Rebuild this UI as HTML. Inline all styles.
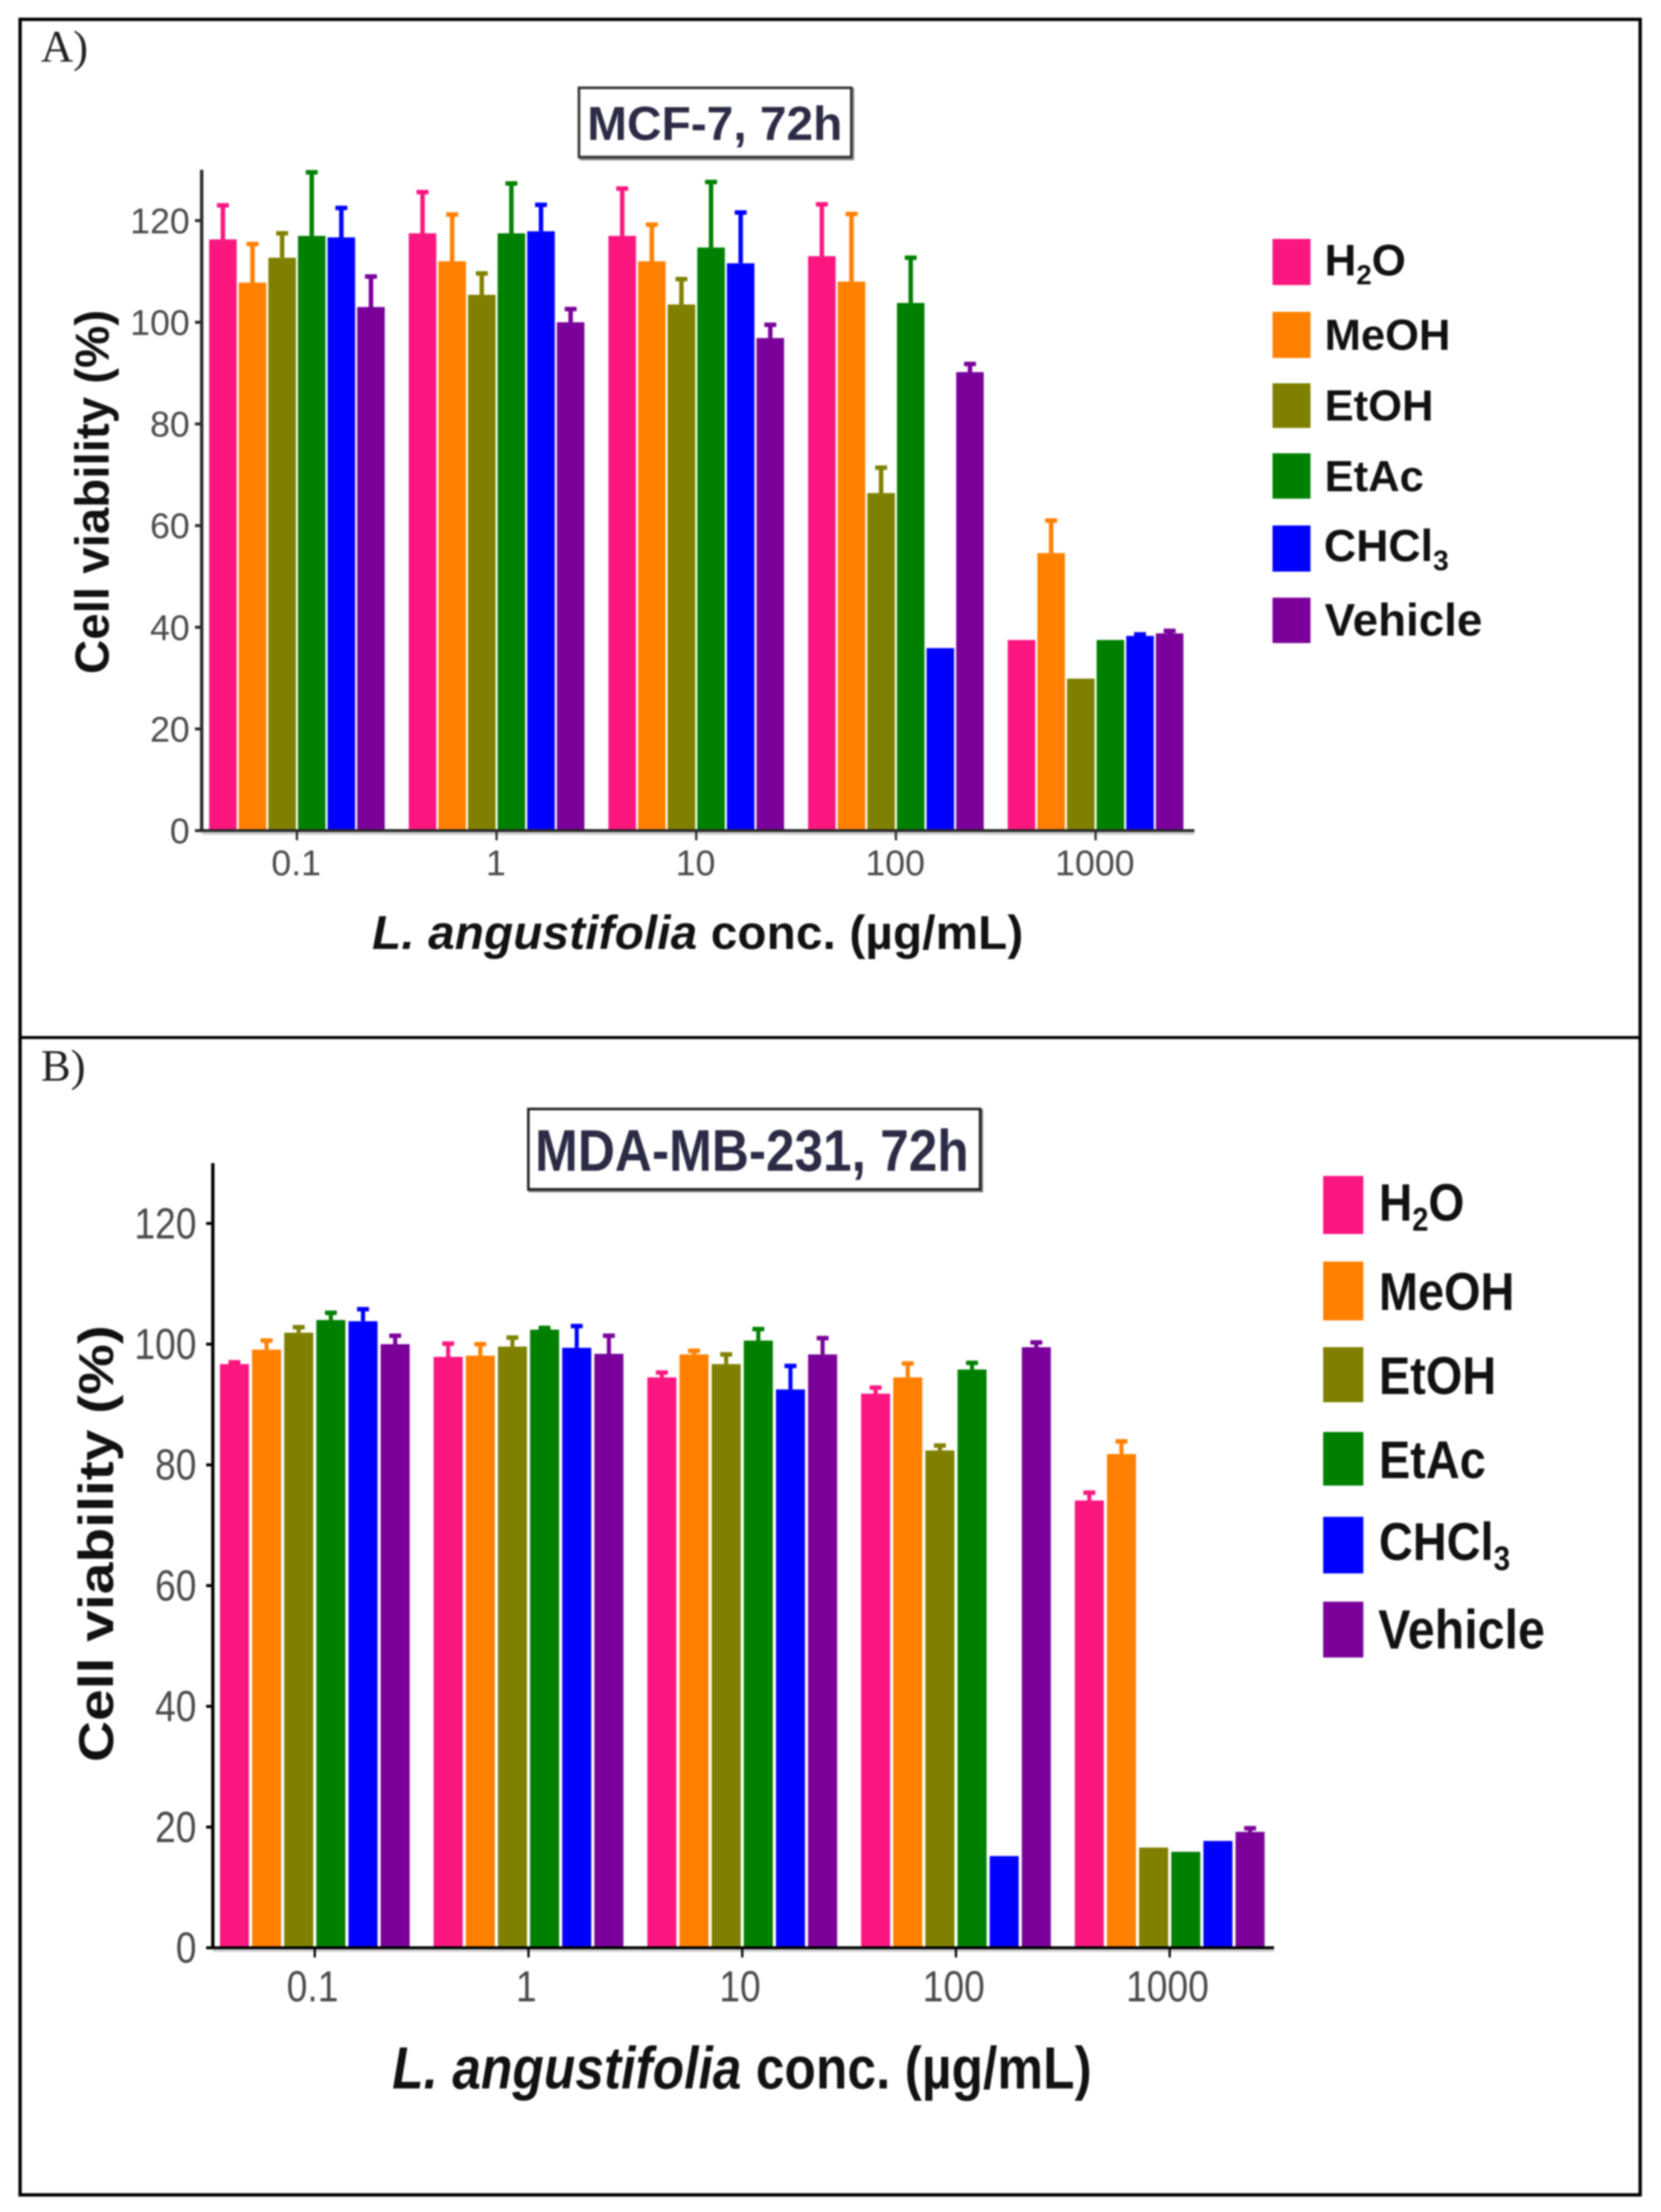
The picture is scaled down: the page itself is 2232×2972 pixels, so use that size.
<!DOCTYPE html>
<html lang="en">
<head>
<meta charset="utf-8">
<title>Cell viability of L. angustifolia extracts</title>
<style>
html,body{margin:0;padding:0;background:#fff;width:2232px;height:2972px;overflow:hidden}
svg{display:block;filter:blur(1.1px)}
text{font-family:"Liberation Sans",sans-serif}
.serif{font-family:"Liberation Serif",serif;fill:#222}
.bold{font-weight:bold;fill:#111}
.title{font-weight:bold;fill:#2b2b45}
.tick{fill:#4a4a4a}
</style>
</head>
<body>
<svg id="figure" xmlns="http://www.w3.org/2000/svg" width="2232" height="2972" viewBox="0 0 2232 2972">
  <rect x="27" y="26" width="2177" height="2923" fill="#fff" stroke="#000" stroke-width="4.5"/>
  <line x1="27" y1="1394" x2="2204" y2="1394" stroke="#000" stroke-width="4"/>

  <text class="serif" x="55" y="83" font-size="60">A)</text>
  <text class="serif" x="55" y="1452" font-size="60">B)</text>

  <g>
    <line x1="779" y1="213" x2="1146" y2="213" stroke="#888" stroke-width="5"/>
    <line x1="1146" y1="118" x2="1146" y2="215" stroke="#999" stroke-width="4"/>
    <rect x="778" y="118" width="366" height="93" fill="#fff" stroke="#333" stroke-width="3.5"/>
    <text class="title" x="789" y="188" font-size="64.3">MCF-7, 72h</text>
  </g>
  <g>
    <line x1="710" y1="1600" x2="1319" y2="1600" stroke="#888" stroke-width="4"/>
    <line x1="1319" y1="1490" x2="1319" y2="1602" stroke="#777" stroke-width="4"/>
    <rect x="710" y="1490" width="607" height="108" fill="#fff" stroke="#222" stroke-width="3.5"/>
    <text class="title" transform="translate(719,1573) scale(1,1.14)" font-size="69">MDA-MB-231, 72h</text>
  </g>

  <text class="bold" transform="translate(146,661) rotate(-90)" text-anchor="middle" font-size="63.8">Cell viability (%)</text>
  <text class="bold" transform="translate(152,2074) scale(1,1.16) rotate(-90)" text-anchor="middle" font-size="66">Cell viability (%)</text>

  <text class="bold" x="500" y="1275" font-size="64" textLength="875"><tspan font-style="italic">L. angustifolia</tspan> conc. (µg/mL)</text>
  <text class="bold" transform="translate(527,2806) scale(1,1.15)" font-size="69" textLength="940"><tspan font-style="italic">L. angustifolia</tspan> conc. (µg/mL)</text>

  <g id="panel-a-plot"></g>
  <g id="panel-b-plot"></g>

  <g>
    <g>
      <rect x="1710" y="321" width="51" height="62" fill="#fb1680"/>
      <text class="bold" x="1780" y="370" font-size="59">H<tspan font-size="37" dy="12">2</tspan><tspan dy="-12">O</tspan></text>
    </g>
    <g>
      <rect x="1710" y="419" width="51" height="62" fill="#ff8000"/>
      <text class="bold" x="1780" y="470" font-size="58.5">MeOH</text>
    </g>
    <g>
      <rect x="1710" y="515" width="51" height="60" fill="#808000"/>
      <text class="bold" x="1780" y="565" font-size="58.5">EtOH</text>
    </g>
    <g>
      <rect x="1710" y="609" width="51" height="61" fill="#008000"/>
      <text class="bold" x="1780" y="660" font-size="58.5">EtAc</text>
    </g>
    <g>
      <rect x="1710" y="706" width="51" height="62" fill="#0000ff"/>
      <text class="bold" x="1779" y="754" font-size="60">CHCl<tspan font-size="38" dy="12">3</tspan></text>
    </g>
    <g>
      <rect x="1710" y="803" width="51" height="61" fill="#7a0099"/>
      <text class="bold" x="1780" y="854" font-size="61.5">Vehicle</text>
    </g>
  </g>

  <g>
    <g>
      <rect x="1778" y="1580" width="54" height="78" fill="#fb1680"/>
      <text class="bold" transform="translate(1853,1640) scale(1,1.14)" font-size="62">H<tspan font-size="39" dy="12">2</tspan><tspan dy="-12">O</tspan></text>
    </g>
    <g>
      <rect x="1778" y="1695" width="54" height="79" fill="#ff8000"/>
      <text class="bold" transform="translate(1853,1760) scale(1,1.14)" font-size="63">MeOH</text>
    </g>
    <g>
      <rect x="1778" y="1810" width="54" height="74" fill="#808000"/>
      <text class="bold" transform="translate(1853,1873) scale(1,1.14)" font-size="63">EtOH</text>
    </g>
    <g>
      <rect x="1778" y="1924" width="54" height="72" fill="#008000"/>
      <text class="bold" transform="translate(1853,1986) scale(1,1.14)" font-size="63">EtAc</text>
    </g>
    <g>
      <rect x="1778" y="2038" width="54" height="76" fill="#0000ff"/>
      <text class="bold" transform="translate(1853,2096) scale(1,1.14)" font-size="63">CHCl<tspan font-size="40" dy="12">3</tspan></text>
    </g>
    <g>
      <rect x="1778" y="2152" width="54" height="75" fill="#7a0099"/>
      <text class="bold" transform="translate(1852,2215) scale(1,1.14)" font-size="65">Vehicle</text>
    </g>
  </g>
</svg>

<script>
// Shared categories and tick labels
const categories = ['0.1', '1', '10', '100', '1000'];
const yTicks = [0, 20, 40, 60, 80, 100, 120];
const seriesNames = ['H2O', 'MeOH', 'EtOH', 'EtAc', 'CHCl3', 'Vehicle'];

// Panel A: MCF-7, mean cell viability (%) by concentration
const mcfH2O = [116.3, 117.5, 117.0, 113.0, 37.5];
const mcfMeOH = [107.8, 112.0, 112.0, 108.0, 54.6];
const mcfEtOH = [112.7, 105.4, 103.5, 66.4, 29.9];
const mcfEtAc = [117.0, 117.5, 114.7, 103.8, 37.5];
const mcfCHCl3 = [116.7, 117.9, 111.6, 35.9, 38.3];
const mcfVehicle = [103.0, 100.0, 96.9, 90.2, 38.8];

// Panel A: upper end of each error bar (%)
const mcfH2OTop = [123.0, 125.6, 126.3, 123.2, 37.5];
const mcfMeOHTop = [115.4, 121.2, 119.2, 121.3, 61.0];
const mcfEtOHTop = [117.5, 109.6, 108.5, 71.4, 29.9];
const mcfEtAcTop = [129.5, 127.3, 127.6, 112.7, 37.5];
const mcfCHCl3Top = [122.5, 123.1, 121.6, 35.9, 38.6];
const mcfVehicleTop = [109.0, 102.6, 99.5, 91.8, 39.3];

// Panel B: MDA-MB-231, mean cell viability (%) by concentration
const mdaH2O = [96.7, 97.9, 94.5, 91.8, 74.1];
const mdaMeOH = [99.1, 98.1, 98.3, 94.5, 81.8];
const mdaEtOH = [101.9, 99.6, 96.7, 82.4, 16.6];
const mdaEtAc = [104.0, 102.4, 100.6, 95.8, 15.9];
const mdaCHCl3 = [103.8, 99.4, 92.5, 15.2, 17.7];
const mdaVehicle = [100.0, 98.4, 98.3, 99.5, 19.2];

// Panel B: upper end of each error bar (%)
const mdaH2OTop = [97.0, 100.1, 95.3, 92.8, 75.4];
const mdaMeOHTop = [100.6, 100.0, 98.9, 96.8, 83.9];
const mdaEtOHTop = [102.8, 101.1, 98.3, 83.2, 16.6];
const mdaEtAcTop = [105.2, 102.7, 102.5, 96.9, 15.9];
const mdaCHCl3Top = [105.8, 103.0, 96.4, 15.2, 17.7];
const mdaVehicleTop = [101.4, 101.4, 101.0, 100.3, 19.8];

const seriesColors = ['#fb1680', '#ff8000', '#808000', '#008000', '#0000ff', '#7a0099'];
const NS = 'http://www.w3.org/2000/svg';

function drawPanel(host, means, tops, o) {
  const yScale = function (v) { return o.y0 - v * o.yUnit; };
  const groupCenter = function (g) { return o.x0 + g * o.groupStep; };
  const barLeft = function (g, s) {
    return groupCenter(g) - (5 * o.barStep + o.barWidth) / 2 + s * o.barStep;
  };

  means.forEach(function (series, s) {
    series.forEach(function (value, g) {
      const bar = document.createElementNS(NS, 'rect');
      
      
      bar.setAttribute('x', barLeft(g, s));
      bar.setAttribute('y', yScale(value));
      bar.setAttribute('width', o.barWidth);
      bar.setAttribute('height', o.y0 - yScale(value));
      bar.setAttribute('fill', seriesColors[s]);
      host.appendChild(bar);

      const top = tops[s][g];
      if (top > value) {
        const cx = barLeft(g, s) + o.barWidth / 2;
        const whisker = document.createElementNS(NS, 'line');
        
        
        whisker.setAttribute('x1', cx);
        whisker.setAttribute('x2', cx);
        whisker.setAttribute('y1', yScale(value));
        whisker.setAttribute('y2', yScale(top));
        whisker.setAttribute('stroke', seriesColors[s]);
        whisker.setAttribute('stroke-width', o.whiskerWidth);
        host.appendChild(whisker);

        const cap = document.createElementNS(NS, 'line');
        
        
        cap.setAttribute('x1', cx - 8);
        cap.setAttribute('x2', cx + 8);
        cap.setAttribute('y1', yScale(top));
        cap.setAttribute('y2', yScale(top));
        cap.setAttribute('stroke', seriesColors[s]);
        cap.setAttribute('stroke-width', 6);
        host.appendChild(cap);
      }
    });
  });

  const shadow = document.createElementNS(NS, 'line');
  
  
  shadow.setAttribute('x1', o.axisX);
  shadow.setAttribute('x2', o.axisEnd);
  shadow.setAttribute('y1', o.y0 + 4);
  shadow.setAttribute('y2', o.y0 + 4);
  shadow.setAttribute('stroke', '#ccc');
  shadow.setAttribute('stroke-width', 3);
  host.appendChild(shadow);

  const xAxis = document.createElementNS(NS, 'line');
  
  
  xAxis.setAttribute('x1', o.axisX - 9);
  xAxis.setAttribute('x2', o.axisEnd);
  xAxis.setAttribute('y1', o.y0);
  xAxis.setAttribute('y2', o.y0);
  xAxis.setAttribute('stroke', o.axisColor);
  xAxis.setAttribute('stroke-width', 4);
  host.appendChild(xAxis);

  const yAxis = document.createElementNS(NS, 'line');
  
  
  yAxis.setAttribute('x1', o.axisX);
  yAxis.setAttribute('x2', o.axisX);
  yAxis.setAttribute('y1', yScale(130));
  yAxis.setAttribute('y2', o.y0 + 2);
  yAxis.setAttribute('stroke', o.axisColor);
  yAxis.setAttribute('stroke-width', 4.5);
  host.appendChild(yAxis);

  yTicks.forEach(function (v) {
    const tick = document.createElementNS(NS, 'line');
    
    
    tick.setAttribute('x1', o.axisX - 9);
    tick.setAttribute('x2', o.axisX);
    tick.setAttribute('y1', yScale(v));
    tick.setAttribute('y2', yScale(v));
    tick.setAttribute('stroke', o.axisColor);
    tick.setAttribute('stroke-width', 4);
    host.appendChild(tick);

    const label = document.createElementNS(NS, 'text');
    
    
    label.setAttribute('class', 'tick');
    label.setAttribute('text-anchor', 'end');
    label.setAttribute('font-size', o.tickFont);
    label.setAttribute('transform', 'translate(' + o.yLabelX + ',' + (yScale(v) + o.labelDrop) + ') scale(1,' + o.stretch + ')');
    label.textContent = String(v);
    host.appendChild(label);
  });

  categories.forEach(function (cat, g) {
    const tick = document.createElementNS(NS, 'line');
    
    
    tick.setAttribute('x1', groupCenter(g));
    tick.setAttribute('x2', groupCenter(g));
    tick.setAttribute('y1', o.y0);
    tick.setAttribute('y2', o.y0 + 13);
    tick.setAttribute('stroke', o.axisColor);
    tick.setAttribute('stroke-width', 3);
    host.appendChild(tick);

    const label = document.createElementNS(NS, 'text');
    
    
    label.setAttribute('class', 'tick');
    label.setAttribute('text-anchor', 'middle');
    label.setAttribute('font-size', o.tickFont);
    label.setAttribute('transform', 'translate(' + (groupCenter(g) + o.xLabelShift) + ',' + o.xLabelY + ') scale(1,' + o.stretch + ')');
    label.textContent = cat;
    host.appendChild(label);
  });
}

drawPanel(
  document.getElementById('panel-a-plot'),
  [mcfH2O, mcfMeOH, mcfEtOH, mcfEtAc, mcfCHCl3, mcfVehicle],
  [mcfH2OTop, mcfMeOHTop, mcfEtOHTop, mcfEtAcTop, mcfCHCl3Top, mcfVehicleTop],
  { y0: 1116, yUnit: 6.83, x0: 399, groupStep: 268.3, barStep: 39.8, barWidth: 37,
    axisX: 271, axisEnd: 1605, axisColor: '#2a2a2a', whiskerWidth: 6,
    tickFont: 48, yLabelX: 255, labelDrop: 17, xLabelY: 1176, xLabelShift: -1, stretch: 1 }
);

drawPanel(
  document.getElementById('panel-b-plot'),
  [mdaH2O, mdaMeOH, mdaEtOH, mdaEtAc, mdaCHCl3, mdaVehicle],
  [mdaH2OTop, mdaMeOHTop, mdaEtOHTop, mdaEtAcTop, mdaCHCl3Top, mdaVehicleTop],
  { y0: 2617, yUnit: 8.11, x0: 423, groupStep: 287.2, barStep: 43.2, barWidth: 39,
    axisX: 286, axisEnd: 1712, axisColor: '#000', whiskerWidth: 5.5,
    tickFont: 50, yLabelX: 264, labelDrop: 20, xLabelY: 2689, xLabelShift: -3, stretch: 1.17 }
);
</script>
</body>
</html>
